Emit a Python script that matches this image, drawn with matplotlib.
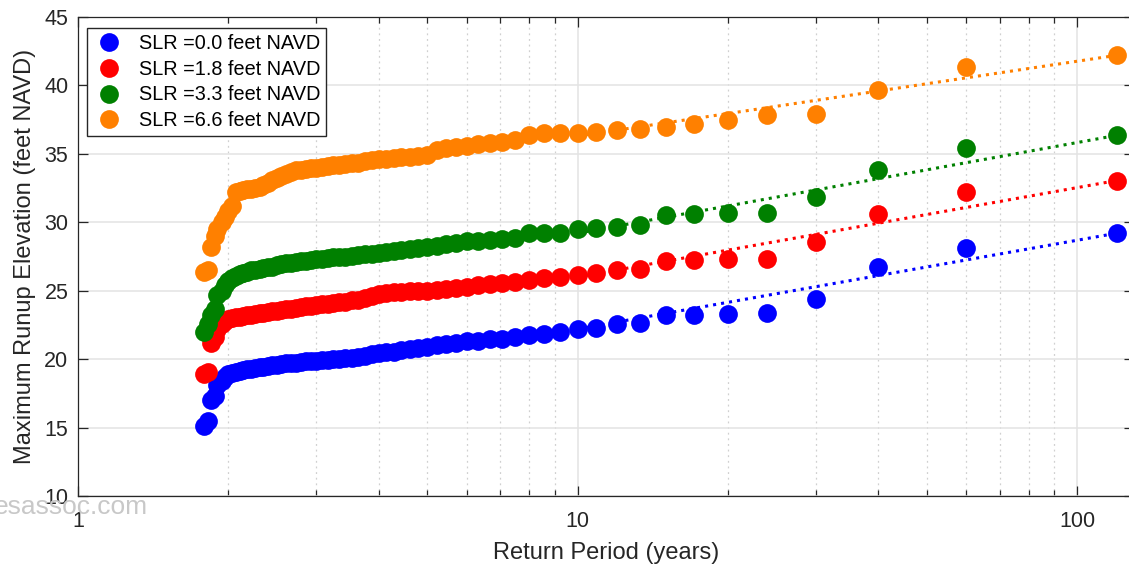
import matplotlib.pyplot as plt
from matplotlib.ticker import LogLocator, NullFormatter, FixedLocator

plt.rcParams["font.family"] = ["Liberation Sans", "DejaVu Sans"]

# Return periods (years) for ranked annual maxima, largest event first
return_period = [120.0, 60.0, 40.0, 30.0, 24.0, 20.0, 17.14, 15.0, 13.33, 12.0,
                 10.91, 10.0, 9.23, 8.57, 8.0, 7.5, 7.06, 6.67, 6.32, 6.0,
                 5.71, 5.45, 5.22, 5.0, 4.8, 4.62, 4.44, 4.29, 4.14, 4.0,
                 3.87, 3.75, 3.64, 3.53, 3.43, 3.33, 3.24, 3.16, 3.08, 3.0,
                 2.93, 2.86, 2.79, 2.73, 2.67, 2.61, 2.55, 2.5, 2.45, 2.4,
                 2.35, 2.31, 2.26, 2.22, 2.18, 2.14, 2.11, 2.07, 2.03, 2.0,
                 1.97, 1.94, 1.9, 1.88, 1.85, 1.82, 1.79]

# Maximum runup elevation (feet NAVD) for each sea level rise scenario
runup_slr_0_0 = [29.2, 28.15, 26.7, 24.4, 23.4, 23.3, 23.25, 23.2, 22.65, 22.55,
                 22.3, 22.2, 22.0, 21.85, 21.8, 21.6, 21.5, 21.45, 21.35, 21.3,
                 21.2, 21.1, 21.0, 20.9, 20.85, 20.75, 20.65, 20.55, 20.5, 20.45,
                 20.35, 20.25, 20.15, 20.1, 20.05, 20.0, 20.0, 19.95, 19.95, 19.9,
                 19.9, 19.85, 19.8, 19.75, 19.7, 19.7, 19.65, 19.6, 19.55, 19.5,
                 19.45, 19.4, 19.35, 19.3, 19.25, 19.2, 19.15, 19.05, 19.0, 18.9,
                 18.7, 18.4, 18.1, 17.3, 17.0, 15.5, 15.1]
runup_slr_1_8 = [33.05, 32.2, 30.6, 28.55, 27.35, 27.35, 27.25, 27.2, 26.6, 26.5,
                 26.3, 26.15, 26.0, 25.9, 25.8, 25.65, 25.55, 25.5, 25.4, 25.3,
                 25.2, 25.15, 25.05, 25.0, 25.0, 24.95, 24.9, 24.9, 24.85, 24.75,
                 24.6, 24.45, 24.35, 24.3, 24.2, 24.15, 24.1, 24.05, 24.0, 23.95,
                 23.9, 23.85, 23.8, 23.75, 23.7, 23.65, 23.6, 23.55, 23.5, 23.45,
                 23.4, 23.35, 23.3, 23.25, 23.2, 23.15, 23.1, 23.05, 23.0, 22.95,
                 22.8, 22.6, 22.2, 21.6, 21.2, 19.05, 18.95]
runup_slr_3_3 = [36.35, 35.45, 33.8, 31.85, 30.7, 30.65, 30.6, 30.55, 29.8, 29.65,
                 29.55, 29.5, 29.25, 29.25, 29.2, 28.85, 28.75, 28.7, 28.65, 28.6,
                 28.5, 28.4, 28.3, 28.2, 28.1, 28.05, 28.0, 27.9, 27.8, 27.75,
                 27.7, 27.65, 27.6, 27.55, 27.5, 27.5, 27.45, 27.4, 27.35, 27.3,
                 27.25, 27.2, 27.15, 27.1, 27.05, 27.0, 26.95, 26.85, 26.75, 26.7,
                 26.65, 26.6, 26.55, 26.5, 26.4, 26.3, 26.2, 26.05, 25.9, 25.7,
                 25.4, 25.0, 24.7, 23.7, 23.2, 22.6, 22.0]
runup_slr_6_6 = [42.2, 41.35, 39.7, 37.9, 37.85, 37.5, 37.15, 36.95, 36.85, 36.75,
                 36.6, 36.55, 36.55, 36.5, 36.4, 36.0, 35.9, 35.8, 35.7, 35.55,
                 35.5, 35.4, 35.3, 34.9, 34.85, 34.8, 34.75, 34.7, 34.65, 34.6,
                 34.55, 34.45, 34.35, 34.3, 34.25, 34.2, 34.15, 34.1, 34.05, 34.0,
                 33.95, 33.9, 33.85, 33.8, 33.7, 33.55, 33.4, 33.25, 33.1, 32.9,
                 32.75, 32.6, 32.5, 32.45, 32.4, 32.35, 32.3, 32.2, 31.2, 30.8,
                 30.4, 30.0, 29.5, 29.0, 28.2, 26.5, 26.4]

# Fitted trend lines over the upper tail (10 to 120 years)
trend_period = [10.0, 120.0]
trend_slr_0_0 = [22.2, 29.2]
trend_slr_1_8 = [26.0, 33.05]
trend_slr_3_3 = [29.2, 36.35]
trend_slr_6_6 = [36.3, 42.2]

labels = ["SLR =0.0 feet NAVD", "SLR =1.8 feet NAVD",
          "SLR =3.3 feet NAVD", "SLR =6.6 feet NAVD"]
colors = ["#0000ff", "#ff0000", "#008000", "#ff8000"]
runups = [runup_slr_0_0, runup_slr_1_8, runup_slr_3_3, runup_slr_6_6]
trends = [trend_slr_0_0, trend_slr_1_8, trend_slr_3_3, trend_slr_6_6]

fig = plt.figure(figsize=(11.29, 5.68), dpi=100)
ax = fig.add_axes([78 / 1129, 72 / 568, 1056 / 1129, 479 / 568])

for runup, color, label in zip(runups, colors, labels):
    ax.plot(return_period, runup, "o", color=color, markersize=13.5,
            markeredgewidth=0, label=label, zorder=3)
for trend, color in zip(trends, colors):
    ax.plot(trend_period, trend, ":", color=color, linewidth=2.2, zorder=2)

ax.set_xscale("log")
ax.set_xlim(1, 130)
ax.set_ylim(10, 45)
ax.xaxis.set_major_locator(FixedLocator([1, 10, 100]))
ax.xaxis.set_major_formatter(plt.FuncFormatter(lambda v, p: "%g" % v))
ax.xaxis.set_minor_locator(LogLocator(base=10, subs=range(2, 10)))
ax.xaxis.set_minor_formatter(NullFormatter())
ax.set_yticks(range(10, 50, 5))

ax.grid(True, which="major", color="#e3e3e3", linewidth=1.1, linestyle="-")
ax.grid(True, which="minor", axis="x", color="#d0d0d0", linewidth=0.9,
        linestyle=(0, (1.5, 3)))
ax.set_axisbelow(True)

ax.tick_params(which="both", direction="in", top=True, right=True,
               colors="#262626", labelsize=15.5)
ax.tick_params(axis="x", which="both", pad=11)
ax.tick_params(axis="y", which="both", pad=7)
ax.tick_params(which="major", length=7, width=0.9)
ax.tick_params(which="minor", length=4, width=0.9)
for spine in ax.spines.values():
    spine.set_color("#262626")
    spine.set_linewidth(0.9)

ax.set_xlabel("Return Period (years)", fontsize=17, color="#262626", labelpad=7)
ax.set_ylabel("Maximum Runup Elevation (feet NAVD)", fontsize=17,
              color="#262626", labelpad=6)

leg = ax.legend(loc="upper left", bbox_to_anchor=(0.0085, 0.977),
                borderaxespad=0, fontsize=14.3, fancybox=False, framealpha=1,
                edgecolor="#262626", handletextpad=0.7, borderpad=0.3,
                labelspacing=0.34, handlelength=1.6, markerscale=1.0)
leg.get_frame().set_linewidth(1.0)

fig.text(-0.005, 0.108, "esassoc.com", fontsize=19, color="#c8c8c8",
         ha="left", va="center", zorder=10)

fig.savefig("out.png", dpi=100)
plt.close(fig)
